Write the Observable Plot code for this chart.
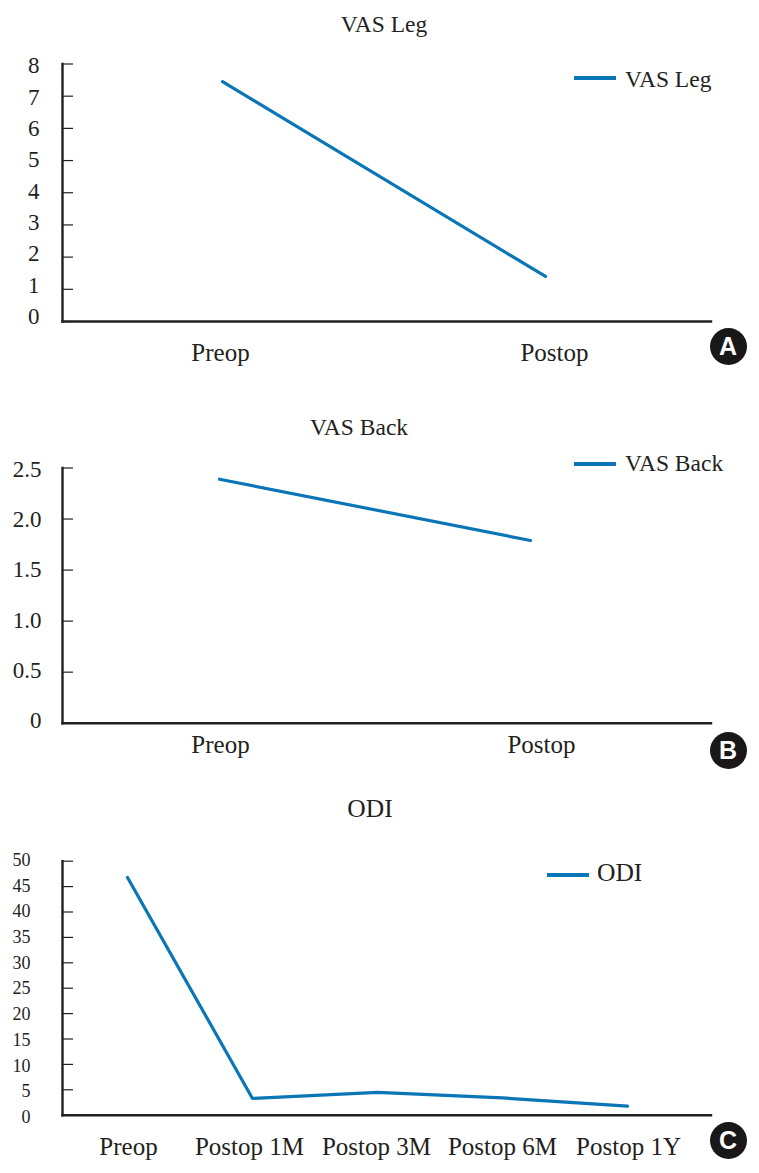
<!DOCTYPE html>
<html><head><meta charset="utf-8">
<script src="https://cdn.jsdelivr.net/npm/d3@7"></script>
<script src="https://cdn.jsdelivr.net/npm/@observablehq/plot@0.6"></script>
<style>
html,body{margin:0;padding:0;background:#fff}
#root{width:759px;font-family:"Liberation Serif",serif;color:#231f20}
.panel{position:relative;width:759px;overflow:hidden}
.panel svg{display:block;position:absolute;left:0;top:0;background:transparent}
.t{position:absolute;white-space:nowrap;line-height:28px}
.swatch{position:absolute;height:4px;width:42px;background:#0a76b7}
.badge{position:absolute;width:37px;height:37px;border-radius:50%;background:#1a1718;color:#fff;font:bold 25px/37px "Liberation Sans",sans-serif;text-align:center}
</style></head><body><div id="root"></div>
<script>
const twoCats = ["Preop", "Postop"];
const odiCats = ["Preop", "Postop 1M", "Postop 3M", "Postop 6M", "Postop 1Y"];
const vasLeg = [7.45, 1.4];
const vasBack = [2.39, 1.79];
const odi = [46.8, 3.3, 4.5, 3.4, 1.8];
const legTicks = [0,1,2,3,4,5,6,7,8];
const backTicks = [0,0.5,1,1.5,2,2.5];
const odiTicks = [0,5,10,15,20,25,30,35,40,45,50];

const panels = [
 {title:"VAS Leg",titleFs:23.5,titleX:384,titleY:10,h:390,top:63.5,bottom:321,max:8,cats:twoCats,vals:vasLeg,ticks:legTicks,
  xr:[222,545],fs:23,fmt:d=>String(d),labelDx:[-2,9],labelDy:39,tickRight:39,
  tickDy:t=>-5+t*0.85,lgY:78,lgX:574,lgTextX:625,lgTextDy:1,badge:["A",728,346]},
 {title:"VAS Back",titleFs:23.5,titleX:359,titleY:23,h:400,top:77.5,bottom:332.7,max:2.5,cats:twoCats,vals:vasBack,ticks:backTicks,
  xr:[219,530],fs:23,fmt:d=>d===0?"0":d.toFixed(1),labelDx:[1,11],labelDy:30,tickRight:41,
  tickDy:t=>-2.5+t*1.6,lgY:73.7,lgX:574,lgTextX:625,lgTextDy:-1,badge:["B",728,360]},
 {title:"ODI",titleFs:25.5,titleX:370,titleY:5,h:383,top:70.7,bottom:324.7,max:50,cats:odiCats,vals:odi,ticks:odiTicks,
  xr:[127,627],fs:18,fmt:d=>String(d),labelDx:[1,-3,-1,0,1],labelDy:40,tickRight:30,
  tickDy:t=>2-t*0.06,lgY:85,lgX:547,lgTextX:597,lgTextDy:-2,badge:["C",728,350]}
];

const root = document.getElementById("root");
const ink = "#231f20";
for (const p of panels) {
  const rows = p.cats.map((c,i)=>({c,v:p.vals[i]}));
  const plot = Plot.plot({
    width:759,height:p.h,
    marginLeft:62,marginRight:48.5,marginTop:p.top,marginBottom:p.h-p.bottom,
    style:{fontFamily:"Liberation Serif",background:"transparent",overflow:"visible"},
    x:{type:"point",domain:p.cats,range:p.xr,padding:0,axis:null},
    y:{domain:[0,p.max],axis:null},
    marks:[
      Plot.axisY({ticks:p.ticks,tickSize:-11,tickFormat:()=>"",stroke:ink,strokeWidth:1.2,label:null}),
      Plot.frame({anchor:"left",stroke:ink,strokeWidth:2.4}),
      Plot.frame({anchor:"bottom",stroke:ink,strokeWidth:2.4}),
      Plot.line(rows,{x:"c",y:"v",stroke:"#0a76b7",strokeWidth:3.2}),
      ...p.ticks.map(t=>Plot.text([t],{y:d=>d,text:p.fmt,frameAnchor:"left",textAnchor:"end",dx:p.tickRight-62,dy:p.tickDy(t),fontSize:p.fs,fill:ink})),
      ...p.cats.map((c,i)=>Plot.text([c],{x:d=>d,text:d=>d,frameAnchor:"bottom",dy:p.labelDy,dx:p.labelDx[i],fontSize:25,fill:ink}))
    ]
  });
  const div = document.createElement("div");
  div.className="panel"; div.style.height=p.h+"px";
  div.appendChild(plot);
  const add=(cls,txt,css)=>{const e=document.createElement("div");e.className=cls;e.textContent=txt;e.style.cssText=css;div.appendChild(e);};
  add("t",p.title,`font-size:${p.titleFs}px;left:${p.titleX}px;top:${p.titleY}px;transform:translateX(-50%)`);
  add("swatch","",`left:${p.lgX}px;top:${p.lgY-2}px`);
  add("t",p.title,`font-size:${p.titleFs}px;left:${p.lgTextX}px;top:${p.lgY-14+p.lgTextDy}px`);
  add("badge",p.badge[0],`left:${p.badge[1]-18.5}px;top:${p.badge[2]-18.5}px`);
  root.appendChild(div);
}
</script></body></html>
